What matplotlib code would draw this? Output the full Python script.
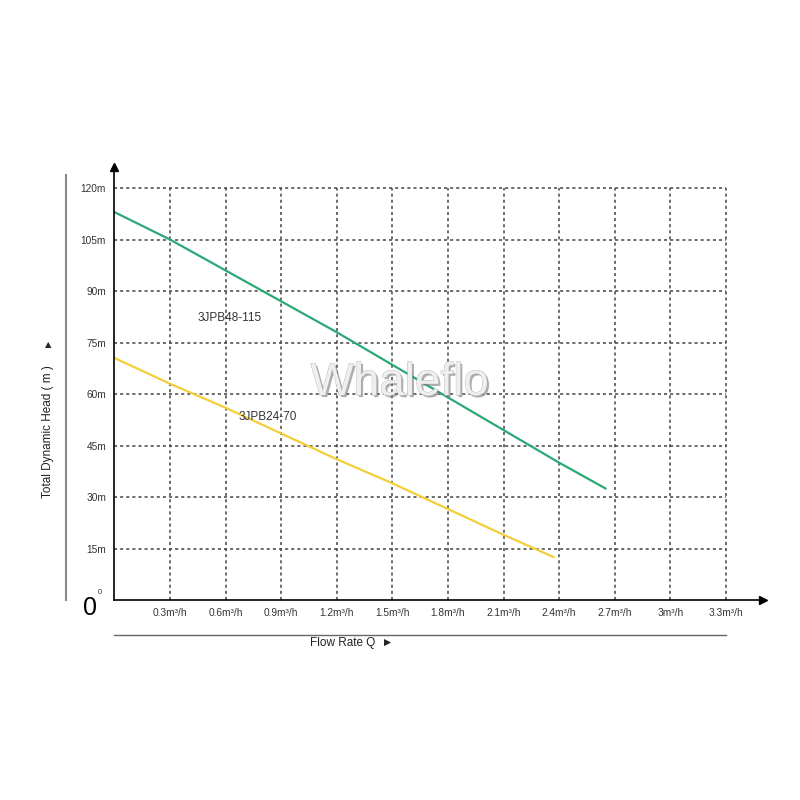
import matplotlib
matplotlib.use("Agg")
import matplotlib.pyplot as plt
import matplotlib.patheffects as pe

plt.rcParams['font.family'] = ['Liberation Sans', 'DejaVu Sans']

# flow ticks (m3/h) and head ticks (m)
flow_ticks = [0.3, 0.6, 0.9, 1.2, 1.5, 1.8, 2.1, 2.4, 2.7, 3.0, 3.3]
flow_labels = ['0.3m³/h', '0.6m³/h', '0.9m³/h', '1.2m³/h', '1.5m³/h', '1.8m³/h',
               '2.1m³/h', '2.4m³/h', '2.7m³/h', '3m³/h', '3.3m³/h']
head_ticks = [15, 30, 45, 60, 75, 90, 105, 120]
head_labels = ['15m', '30m', '45m', '60m', '75m', '90m', '105m', '120m']

# pump curves
q_48 = [0, 0.3, 0.6, 0.9, 1.2, 1.5, 1.8, 2.1, 2.4, 2.65]
h_48 = [113, 105, 96, 87, 78, 68.5, 59, 49.5, 40, 32.5]
q_24 = [0, 0.3, 0.6, 0.9, 1.2, 1.5, 1.8, 2.1, 2.37]
h_24 = [70.5, 63, 56, 48.5, 41, 34, 26.5, 19, 12.5]

fig = plt.figure(figsize=(8, 8), dpi=100)
ax = fig.add_axes([0.143, 0.25, 0.8107, 0.5407])
ax.set_xlim(0, 3.5)
ax.set_ylim(0, 126)
for s in ['top', 'right']:
    ax.spines[s].set_visible(False)
ax.spines['left'].set_linewidth(1.2)
ax.spines['bottom'].set_linewidth(1.2)
ax.plot(1, 0, '>k', ms=6, transform=ax.transAxes, clip_on=False)
ax.plot(0, 1, '^k', ms=6, transform=ax.transAxes, clip_on=False)

# dotted grid
ax.hlines(head_ticks, 0, 3.3, colors='#444444', linestyles=(0, (2, 2)), lw=1.1)
ax.vlines(flow_ticks, 0, 120, colors='#444444', linestyles=(0, (2, 2)), lw=1.1)

ax.plot(q_48, h_48, color='#2aa876', lw=1.6)
ax.plot(q_24, h_24, color='#f2cf3a', lw=1.6)

ax.set_xticks(flow_ticks)
ax.set_xticklabels(flow_labels, fontsize=7.3, color='#333333')
ax.set_yticks(head_ticks)
ax.set_yticklabels(head_labels, fontsize=7.3, color='#333333')
ax.tick_params(length=0, pad=6)

ax.text(0.45, 82, '3JPB48-115', fontsize=8.5, color='#333333', va='center')
ax.text(0.67, 53.3, '3JPB24-70', fontsize=8.5, color='#333333', va='center')

wm = ax.text(1.54, 63.2, 'Whaleflo', fontsize=33, color='#efefef', ha='center', va='center')
wm.set_path_effects([pe.SimplePatchShadow(offset=(1.5, -1.5), shadow_rgbFace='#777777', alpha=0.6),
                     pe.Stroke(linewidth=0.5, foreground='#aaaaaa'), pe.Normal()])

# decorations outside the axes
fig.text(0.113, 0.24, '0', fontsize=18, ha='center', va='center')
fig.text(0.125, 0.26, '0', fontsize=5.5, ha='center', va='center', color='#333333')
fig.add_artist(plt.Line2D([0.083, 0.083], [0.25, 0.781], color='#888888', lw=1.5))
fig.add_artist(plt.Line2D([0.143, 0.908], [0.206, 0.206], color='#666666', lw=1))
fig.text(0.06, 0.461, 'Total Dynamic Head ( m )', rotation=90, fontsize=8.5,
         ha='center', va='center', color='#222222')
fig.text(0.06, 0.569, '▲', fontsize=6, ha='center', va='center', color='#222222',
         family=['DejaVu Sans'])
fig.text(0.388, 0.196, 'Flow Rate Q  ►', fontsize=8.5, ha='left', va='center',
         color='#222222', family=['Liberation Sans', 'DejaVu Sans'])

fig.savefig('out.png', dpi=100, facecolor='white')
